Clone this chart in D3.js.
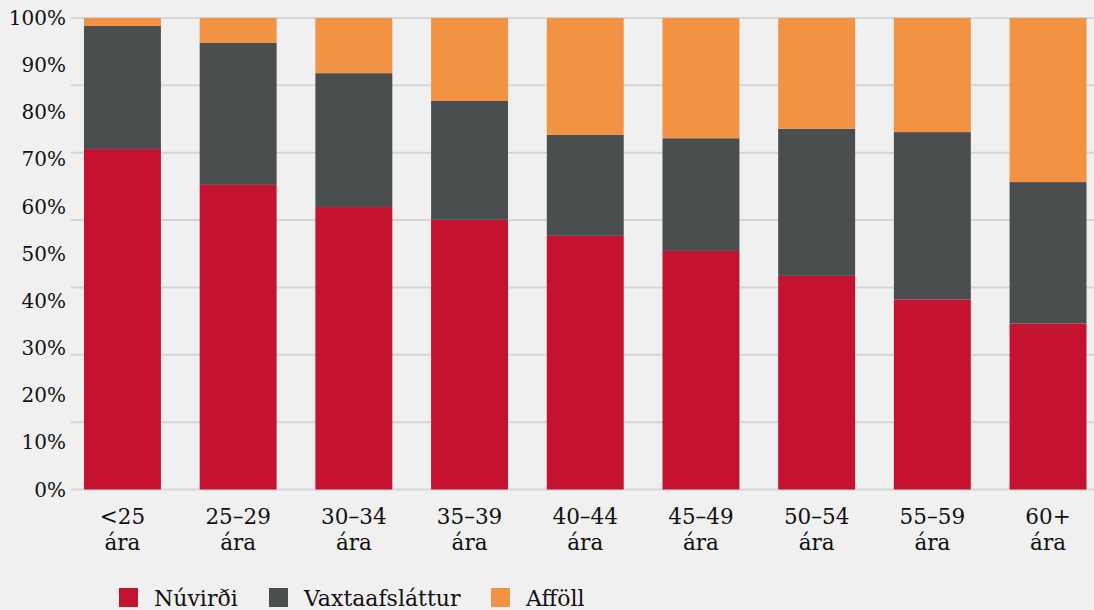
<!DOCTYPE html>
<meta charset="utf-8">
<style>
  body { margin: 0; background: #f0f0f0; }
  svg { display: block; }
  .axis text { font-family: "DejaVu Serif", serif; font-size: 20px; fill: #111; }
  .axis.x text { font-size: 21.5px; }
  .grid line { stroke: #d5d5d5; stroke-width: 2px; }
  .legend text { font-family: "DejaVu Serif", serif; font-size: 22px; fill: #111; }
</style>
<body>
<div id="chart"></div>
<script src="https://d3js.org/d3.v7.min.js"></script>
<script>
// age groups (two-line labels)
const groups = ["<25", "25–29", "30–34", "35–39", "40–44", "45–49", "50–54", "55–59", "60+"];
const nuvirdi = [72.2, 64.6, 59.9, 57.2, 53.8, 50.6, 45.3, 40.3, 35.2];
const vaxtaafslattur = [26.1, 30.1, 28.4, 25.2, 21.4, 23.9, 31.2, 35.5, 30.0];
const affoll = [1.7, 5.3, 11.7, 17.6, 24.8, 25.5, 23.5, 24.2, 34.8];
const seriesNames = ["Núvirði", "Vaxtaafsláttur", "Afföll"];
const colors = ["#c41230", "#4a4e4f", "#f29344"];
const yTicks = [0, 10, 20, 30, 40, 50, 60, 70, 80, 90, 100];

const width = 1094, height = 610;

const svg = d3.select("#chart").append("svg")
  .attr("width", width)
  .attr("height", height);

const x = d3.scaleBand()
  .domain(groups)
  .range([64.6, 1105.9])
  .paddingInner(0.335)
  .paddingOuter(0.1675);

const y = d3.scaleLinear()
  .domain([0, 100])
  .range([489.5, 18]);

// gridlines (seven equal intervals, as in the original)
svg.append("g").attr("class", "grid")
  .selectAll("line")
  .data(d3.range(0, 8))
  .enter().append("line")
  .attr("x1", 71)
  .attr("x2", width)
  .attr("y1", d => y(d * 100 / 7))
  .attr("y2", d => y(d * 100 / 7));

// y labels
svg.append("g").attr("class", "axis")
  .selectAll("text")
  .data(yTicks)
  .enter().append("text")
  .attr("x", 66)
  .attr("y", d => y(d))
  .attr("dy", "0.35em")
  .attr("text-anchor", "end")
  .text(d => d + "%");

// stack the data
const rows = groups.map((g, i) => ({
  group: g,
  "Núvirði": nuvirdi[i],
  "Vaxtaafsláttur": vaxtaafslattur[i],
  "Afföll": affoll[i]
}));
const stacked = d3.stack().keys(seriesNames)(rows);

svg.append("g")
  .selectAll("g")
  .data(stacked)
  .enter().append("g")
  .attr("fill", (d, i) => colors[i])
  .selectAll("rect")
  .data(d => d)
  .enter().append("rect")
  .attr("x", d => x(d.data.group))
  .attr("width", x.bandwidth())
  .attr("y", d => y(d[1]))
  .attr("height", d => y(d[0]) - y(d[1]));

// x labels
const xl = svg.append("g").attr("class", "axis x")
  .selectAll("text")
  .data(groups)
  .enter().append("text")
  .attr("x", d => x(d) + x.bandwidth() / 2)
  .attr("y", 524)
  .attr("text-anchor", "middle");
xl.append("tspan").attr("x", d => x(d) + x.bandwidth() / 2).text(d => d);
xl.append("tspan").attr("x", d => x(d) + x.bandwidth() / 2).attr("dy", 26).text("ára");

// legend
const legendX = [119, 269, 491];
const legend = svg.append("g").attr("class", "legend")
  .selectAll("g")
  .data(seriesNames)
  .enter().append("g")
  .attr("transform", (d, i) => "translate(" + legendX[i] + ",588)");
legend.append("rect")
  .attr("width", 19)
  .attr("height", 19)
  .attr("fill", (d, i) => colors[i]);
legend.append("text")
  .attr("x", 35)
  .attr("y", 10)
  .attr("dy", "0.35em")
  .text(d => d);
</script>
</body>
